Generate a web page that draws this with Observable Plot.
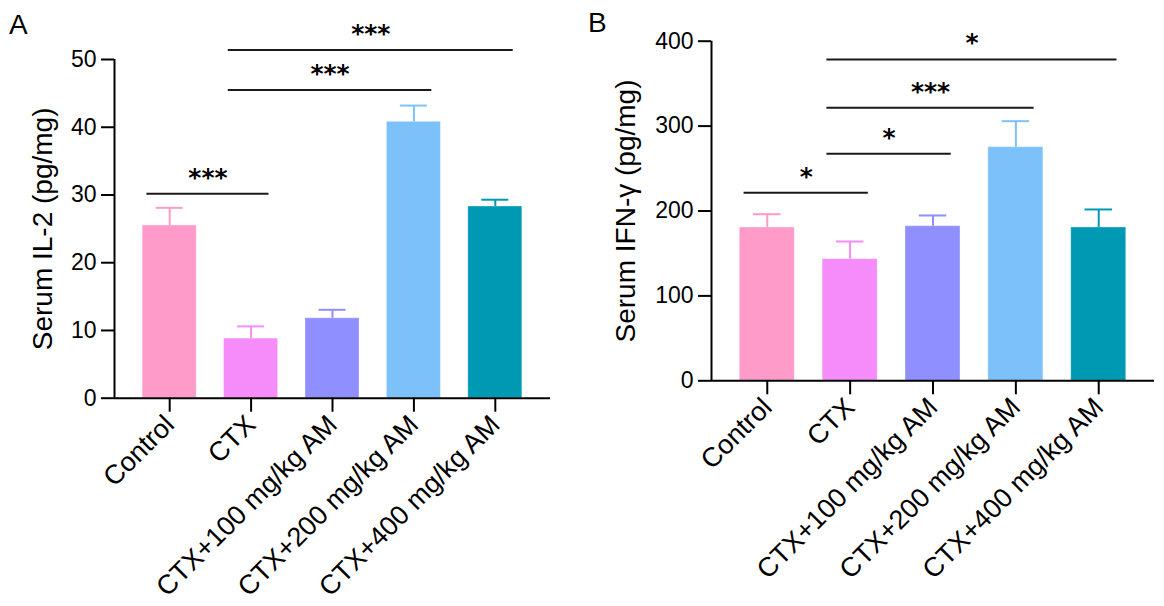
<!DOCTYPE html>
<html><head><meta charset="utf-8">
<script src="https://cdn.jsdelivr.net/npm/d3@7"></script>
<script src="https://cdn.jsdelivr.net/npm/@observablehq/plot@0.6"></script>
<style>
body{margin:0;background:#fff;}
#wrap{position:relative;width:1164px;height:606px;overflow:hidden;font-family:"Liberation Sans",Arial,sans-serif;background:#fff;}
.pane{position:absolute;top:0;}
.tag{position:absolute;font-size:28px;line-height:1;color:#000;}
</style></head>
<body><div id="wrap">
<div class="pane" id="a" style="left:0"></div>
<div class="pane" id="b" style="left:580px"></div>
<div class="tag" style="left:9px;top:11px">A</div>
<div class="tag" style="left:588px;top:9px">B</div>
</div>
<script>
const groups = ["Control", "CTX", "CTX+100 mg/kg AM", "CTX+200 mg/kg AM", "CTX+400 mg/kg AM"];
const colors = ["#FF9BC8", "#F68BFA", "#8F8FFF", "#7DC1FA", "#0099B4"];

const il2Mean = [25.5, 8.8, 11.8, 40.8, 28.3];
const il2Sd = [2.6, 1.8, 1.25, 2.4, 1.0];
const il2Ticks = [0, 10, 20, 30, 40, 50];
const il2SigFrom = [0, 1, 1];
const il2SigTo = [1, 3, 4];
const il2SigY = [30.2, 45.5, 51.4];
const il2SigLabel = ["***", "***", "***"];

const ifnMean = [180.6, 143.3, 182.1, 275.2, 180.6];
const ifnSd = [15.6, 20.8, 12.6, 30.6, 21.2];
const ifnTicks = [0, 100, 200, 300, 400];
const ifnSigFrom = [0, 1, 1, 1];
const ifnSigTo = [1, 2, 3, 4];
const ifnSigY = [221.4, 267.4, 321.6, 378.5];
const ifnSigLabel = ["*", "*", "***", "*"];

function panel(el, o) {
  const data = groups.map((g, i) => ({i, g, mean: o.mean[i], hi: o.mean[i] + o.sd[i], color: colors[i]}));
  const sig = o.sigFrom.map((f, k) => ({f, t: o.sigTo[k], y: o.sigY[k], label: o.sigLabel[k]}));
  const x0 = -o.pad, x1 = groups.length - 1 + o.pad;
  const yMax = o.ticks[o.ticks.length - 1];
  const bw = 0.332, cw = 0.166;
  const chart = Plot.plot({
    width: o.width, height: 606,
    marginLeft: o.ml, marginRight: o.mr, marginTop: o.mt, marginBottom: o.mb,
    style: {fontFamily: "'Liberation Sans', Arial, sans-serif", background: "transparent", overflow: "visible", color: "#000"},
    x: {type: "linear", domain: [x0, x1]},
    y: {domain: [0, yMax]},
    color: {type: "identity"},
    marks: [
      Plot.rectY(data, {x1: d => d.i - bw, x2: d => d.i + bw, y: "mean", fill: "color", stroke: "white", strokeOpacity: 0.35, strokeWidth: 1}),
      Plot.ruleX(data, {x: "i", y1: "mean", y2: "hi", stroke: "color", strokeWidth: 2}),
      Plot.ruleY(data, {y: "hi", x1: d => d.i - cw, x2: d => d.i + cw, stroke: "color", strokeWidth: 2}),
      Plot.ruleY(sig, {y: "y", x1: d => d.f - 0.28, x2: d => d.t + 0.22, stroke: "#1a1a1a", strokeWidth: 2}),
      Plot.text(sig, {x: d => (d.f - 0.28 + d.t + 0.22) / 2, y: "y", text: "label", lineAnchor: "bottom", dy: -8, fontSize: 25, fontWeight: "bold", fontFamily: "DejaVu Sans", fill: "#000"}),
      Plot.ruleY([0], {stroke: "#000", strokeWidth: 2}),
      Plot.ruleX([x0], {y1: 0, y2: yMax, stroke: "#000", strokeWidth: 2}),
      Plot.axisY({ticks: o.ticks, tickFormat: d => String(d), tickSize: 13, tickPadding: 5, fontSize: 23, strokeWidth: 2, label: null}),
      Plot.axisX({ticks: d3.range(groups.length), tickFormat: i => groups[i], tickRotate: -45, tickSize: 14, tickPadding: 8, fontSize: 27, strokeWidth: 2, label: null}),
      Plot.text([o.title], {frameAnchor: "left", rotate: -90, dx: o.titleDx, lineAnchor: "top", textAnchor: "middle", fontSize: 28, text: d => d, fill: "#000"})
    ]
  });
  el.appendChild(chart);
}

panel(document.getElementById("a"), {
  mean: il2Mean, sd: il2Sd, ticks: il2Ticks, sigFrom: il2SigFrom, sigTo: il2SigTo, sigY: il2SigY, sigLabel: il2SigLabel,
  title: "Serum IL-2 (pg/mg)", width: 580, ml: 114, mr: 30, mt: 59, mb: 208.3, pad: 0.678, titleDx: -82
});
panel(document.getElementById("b"), {
  mean: ifnMean, sd: ifnSd, ticks: ifnTicks, sigFrom: ifnSigFrom, sigTo: ifnSigTo, sigY: ifnSigY, sigLabel: ifnSigLabel,
  title: "Serum IFN-γ (pg/mg)", width: 584, ml: 131, mr: 10, mt: 40.7, mb: 225.7, pad: 0.673, titleDx: -96
});
</script>
</body></html>
